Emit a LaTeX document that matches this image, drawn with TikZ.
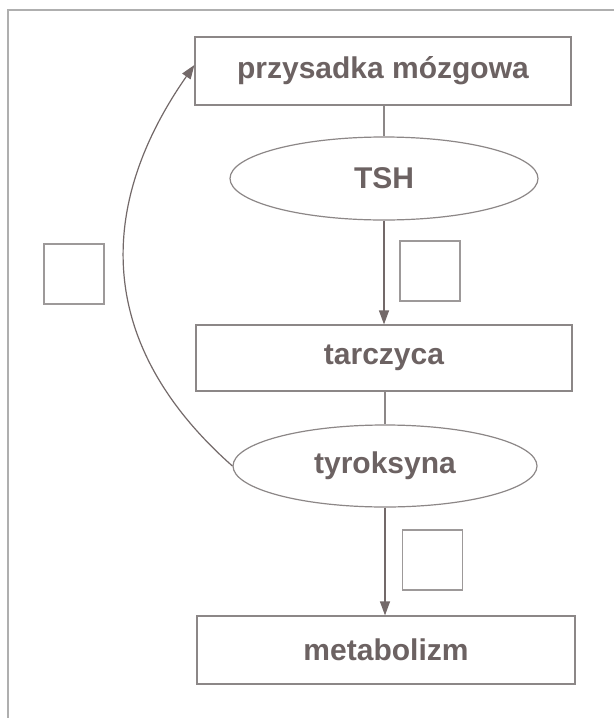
\documentclass[tikz,border=0pt]{standalone}
\usepackage{fontspec}
\setmainfont{Liberation Sans}
\usetikzlibrary{shapes.geometric,arrows.meta}
\definecolor{txt}{RGB}{108,98,98}
\definecolor{edge}{RGB}{140,135,135}
\definecolor{arr}{RGB}{115,105,105}
\definecolor{frame}{RGB}{175,175,175}
\tikzset{
  lbl/.style={font=\fontsize{30}{32}\selectfont\bfseries, text=txt},
  boxnode/.style={lbl, draw=edge, line width=1.2pt, rectangle, inner sep=0pt},
  ovalnode/.style={lbl, draw=edge, line width=1.2pt, ellipse, inner sep=0pt},
  qbox/.style={draw=edge!85, line width=1.3pt, rectangle, inner sep=0pt, minimum width=60pt, minimum height=60pt},
  link/.style={draw=edge, line width=1.2pt},
  flow/.style={draw=arr, line width=1.2pt, -{Triangle[length=14pt,width=10pt]}},
}
\begin{document}
\begin{tikzpicture}[x=1pt,y=-1pt]
\useasboundingbox (0,0) rectangle (614,718);
\fill[white] (0,0) rectangle (614,718);
% frame
\draw[frame, line width=1.3pt] (614,10) -- (8,10) -- (8,718);
% nodes
\node[boxnode, minimum width=376pt, minimum height=68pt] (pz) at (383,71) {przysadka mózgowa};
\node[ovalnode, minimum width=308pt, minimum height=83pt] (tsh) at (384,178.5) {TSH};
\node[boxnode, minimum width=376pt, minimum height=66pt] (tar) at (384,358) {tarczyca};
\node[ovalnode, minimum width=304pt, minimum height=82pt] (tyr) at (385,466) {tyroksyna};
\node[boxnode, minimum width=378pt, minimum height=68pt] (met) at (386,650) {metabolizm};
\node[qbox] (q1) at (74,274) {};
\node[qbox] (q2) at (430,271) {};
\node[qbox] (q3) at (432.5,560) {};
% connectors
\draw[link] (pz.south -| tsh.north) -- (tsh.north);
\draw[flow] (tsh.south) -- (tsh.south |- tar.north);
\draw[link] (tar.south -| tyr.north) -- (tyr.north);
\draw[flow] (tyr.south) -- (tyr.south |- met.north);
\draw[flow] (tyr.west) .. controls (90,340) and (100,200) .. ([yshift=6pt]pz.west);
\end{tikzpicture}
\end{document}
